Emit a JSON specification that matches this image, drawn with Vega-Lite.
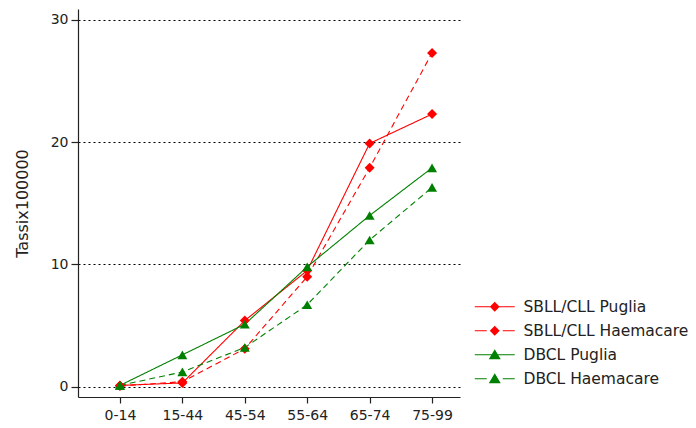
{
  "$schema": "https://vega.github.io/schema/vega-lite/v6.json",
  "width": 382,
  "height": 388,
  "autosize": "none",
  "padding": {"left": 78, "top": 9, "right": 236, "bottom": 31},
  "background": "white",
  "config": {
    "view": {"stroke": null},
    "font": "DejaVu Sans",
    "axis": {"labelColor": "#222", "titleColor": "#222", "domainColor": "#222", "tickColor": "#222", "domainWidth": 1.2, "tickWidth": 1.2}
  },
  "data": {
    "values": [
      {"series": "SBLL/CLL Puglia", "age": "0-14", "rate": 0.1},
      {"series": "SBLL/CLL Puglia", "age": "15-44", "rate": 0.3},
      {"series": "SBLL/CLL Puglia", "age": "45-54", "rate": 5.4},
      {"series": "SBLL/CLL Puglia", "age": "55-64", "rate": 9.5},
      {"series": "SBLL/CLL Puglia", "age": "65-74", "rate": 19.9},
      {"series": "SBLL/CLL Puglia", "age": "75-99", "rate": 22.3},
      {"series": "SBLL/CLL Haemacare", "age": "0-14", "rate": 0.05},
      {"series": "SBLL/CLL Haemacare", "age": "15-44", "rate": 0.4},
      {"series": "SBLL/CLL Haemacare", "age": "45-54", "rate": 3.1},
      {"series": "SBLL/CLL Haemacare", "age": "55-64", "rate": 9.0},
      {"series": "SBLL/CLL Haemacare", "age": "65-74", "rate": 17.9},
      {"series": "SBLL/CLL Haemacare", "age": "75-99", "rate": 27.3},
      {"series": "DBCL Puglia", "age": "0-14", "rate": 0.1},
      {"series": "DBCL Puglia", "age": "15-44", "rate": 2.6},
      {"series": "DBCL Puglia", "age": "45-54", "rate": 5.1},
      {"series": "DBCL Puglia", "age": "55-64", "rate": 9.8},
      {"series": "DBCL Puglia", "age": "65-74", "rate": 14.0},
      {"series": "DBCL Puglia", "age": "75-99", "rate": 17.9},
      {"series": "DBCL Haemacare", "age": "0-14", "rate": 0.1},
      {"series": "DBCL Haemacare", "age": "15-44", "rate": 1.2},
      {"series": "DBCL Haemacare", "age": "45-54", "rate": 3.2},
      {"series": "DBCL Haemacare", "age": "55-64", "rate": 6.7},
      {"series": "DBCL Haemacare", "age": "65-74", "rate": 12.0},
      {"series": "DBCL Haemacare", "age": "75-99", "rate": 16.3}
    ]
  },
  "encoding": {
    "x": {
      "field": "age", "type": "ordinal",
      "sort": ["0-14", "15-44", "45-54", "55-64", "65-74", "75-99"],
      "scale": {"type": "point", "padding": 0.56, "align": 0.6},
      "axis": {"title": null, "labelAngle": 0, "labelFontSize": 14, "tickSize": 6, "labelPadding": 5, "grid": false}
    },
    "y": {
      "field": "rate", "type": "quantitative",
      "scale": {"domain": [-0.85, 30.9], "nice": false, "zero": false},
      "axis": {
        "title": "Tassix100000", "titleFontSize": 16, "titleFontWeight": "normal", "titlePadding": 20,
        "values": [0, 10, 20, 30], "labelFontSize": 14, "tickSize": 7, "labelPadding": 3,
        "grid": true, "gridColor": "#000", "gridDash": [2, 3], "gridWidth": 1.2, "gridOpacity": 1
      }
    }
  },
  "resolve": {"scale": {"color": "independent", "shape": "independent"}, "legend": {"color": "independent", "shape": "independent"}},
  "layer": [
    {
      "mark": {"type": "line", "strokeWidth": 1.1},
      "encoding": {
        "color": {
          "field": "series", "type": "nominal",
          "scale": {"domain": ["SBLL/CLL Puglia", "SBLL/CLL Haemacare", "DBCL Puglia", "DBCL Haemacare"], "range": ["#ff0000", "#ff0000", "#008000", "#008000"]},
          "legend": null
        },
        "strokeDash": {
          "field": "series", "type": "nominal",
          "scale": {"domain": ["SBLL/CLL Puglia", "SBLL/CLL Haemacare", "DBCL Puglia", "DBCL Haemacare"], "range": [[1, 0], [6, 4], [1, 0], [6, 4]]},
          "legend": null
        }
      }
    },
    {
      "mark": {"type": "point", "filled": true, "opacity": 1},
      "encoding": {
        "color": {
          "field": "series", "type": "nominal",
          "scale": {"domain": ["SBLL/CLL Puglia", "SBLL/CLL Haemacare", "DBCL Puglia", "DBCL Haemacare"], "range": ["#ff0000", "#ff0000", "#008000", "#008000"]},
          "legend": null
        },
        "shape": {
          "field": "series", "type": "nominal",
          "scale": {"domain": ["SBLL/CLL Puglia", "SBLL/CLL Haemacare", "DBCL Puglia", "DBCL Haemacare"], "range": ["diamond", "diamond", "triangle-up", "triangle-up"]},
          "legend": null
        },
        "size": {
          "field": "series", "type": "ordinal",
          "scale": {"domain": ["SBLL/CLL Puglia", "SBLL/CLL Haemacare", "DBCL Puglia", "DBCL Haemacare"], "range": [100, 100, 150, 150]},
          "legend": null
        }
      }
    },
    {
      "transform": [{"filter": "false"}],
      "mark": {"type": "point", "filled": true, "opacity": 1},
      "encoding": {
        "color": {
          "field": "series", "type": "nominal",
          "scale": {"domain": ["SBLL/CLL Puglia", "SBLL/CLL Haemacare", "DBCL Puglia", "DBCL Haemacare"], "range": ["#ff0000", "#ff0000", "#008000", "#008000"]},
          "legend": {
            "title": null, "orient": "none", "legendX": 409, "legendY": 290, "padding": 0,
            "symbolSize": 144, "symbolStrokeWidth": 0, "labelFontSize": 15.5, "labelColor": "#222",
            "labelOffset": 21, "rowPadding": 7, "labelLimit": 300
          }
        },
        "shape": {
          "field": "series", "type": "nominal",
          "scale": {
            "domain": ["SBLL/CLL Puglia", "SBLL/CLL Haemacare", "DBCL Puglia", "DBCL Haemacare"],
            "range": [
              "M-3.33,-0.1L3.33,-0.1L3.33,0.1L-3.33,0.1Z M0,-0.83L0.83,0L0,0.83L-0.83,0Z",
              "M-3.33,-0.1L-1.33,-0.1L-1.33,0.1L-3.33,0.1Z M1.33,-0.1L3.33,-0.1L3.33,0.1L1.33,0.1Z M0,-0.83L0.83,0L0,0.83L-0.83,0Z",
              "M-3.33,-0.1L3.33,-0.1L3.33,0.1L-3.33,0.1Z M0,-0.9L1,0.75L-1,0.75Z",
              "M-3.33,-0.1L-1.33,-0.1L-1.33,0.1L-3.33,0.1Z M1.33,-0.1L3.33,-0.1L3.33,0.1L1.33,0.1Z M0,-0.9L1,0.75L-1,0.75Z"
            ]
          },
          "legend": {
            "title": null, "orient": "none", "legendX": 409, "legendY": 290, "padding": 0,
            "symbolSize": 144, "symbolStrokeWidth": 0, "labelFontSize": 15.5, "labelColor": "#222",
            "labelOffset": 21, "rowPadding": 7, "labelLimit": 300
          }
        }
      }
    }
  ]
}
